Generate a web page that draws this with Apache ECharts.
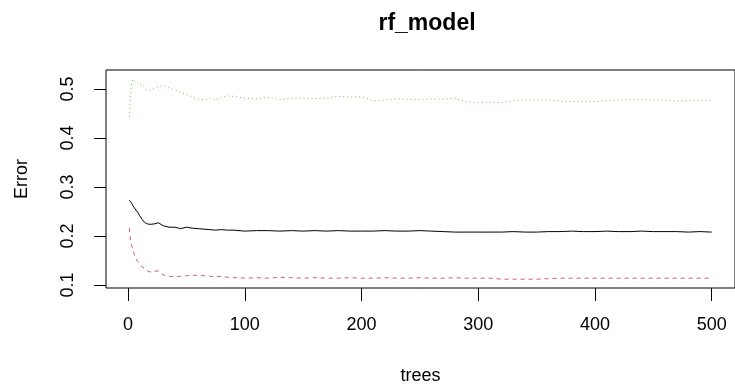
<!DOCTYPE html>
<html>
<head>
<meta charset="utf-8">
<script src="https://cdn.jsdelivr.net/npm/echarts@6/dist/echarts.min.js"></script>
<style>
  html, body { margin: 0; padding: 0; background: #fff; }
  #chart { width: 735px; height: 390px; }
</style>
</head>
<body>
<div id="chart"></div>
<script>
const trees = [1, 2, 3, 4, 5, 6, 8, 10, 12, 14, 16, 18, 20, 23, 26, 30, 35, 40, 45, 50,
  55, 60, 65, 70, 75, 80, 85, 90, 95, 100, 110, 120, 130, 140, 150, 160, 170, 180, 190, 200,
  210, 220, 230, 240, 250, 260, 270, 280, 290, 300, 310, 320, 330, 340, 350, 360, 370, 380, 390, 400,
  410, 420, 430, 440, 450, 460, 470, 480, 490, 500]

const oobErr = [0.273, 0.270, 0.267, 0.262, 0.259, 0.255, 0.249, 0.241, 0.234, 0.228, 0.225, 0.224, 0.224, 0.225, 0.227, 0.221, 0.218, 0.218, 0.215, 0.218,
  0.216, 0.215, 0.214, 0.213, 0.212, 0.213, 0.212, 0.212, 0.211, 0.210, 0.211, 0.211, 0.210, 0.211, 0.210, 0.211, 0.210, 0.211, 0.210, 0.210,
  0.210, 0.211, 0.210, 0.210, 0.211, 0.210, 0.209, 0.208, 0.208, 0.208, 0.208, 0.208, 0.209, 0.208, 0.208, 0.209, 0.209, 0.210, 0.209, 0.209,
  0.210, 0.209, 0.209, 0.210, 0.209, 0.209, 0.209, 0.208, 0.209, 0.208]

const class1Err = [0.216, 0.190, 0.180, 0.173, 0.165, 0.157, 0.148, 0.143, 0.137, 0.134, 0.130, 0.127, 0.127, 0.128, 0.129, 0.121, 0.118, 0.117, 0.118, 0.119,
  0.120, 0.120, 0.119, 0.118, 0.117, 0.118, 0.116, 0.115, 0.115, 0.114, 0.115, 0.114, 0.116, 0.115, 0.114, 0.115, 0.114, 0.114, 0.115, 0.114,
  0.114, 0.115, 0.114, 0.114, 0.115, 0.114, 0.114, 0.115, 0.114, 0.114, 0.114, 0.112, 0.112, 0.112, 0.112, 0.113, 0.114, 0.114, 0.114, 0.114,
  0.114, 0.114, 0.114, 0.114, 0.114, 0.114, 0.114, 0.114, 0.114, 0.114]

const class2Err = [0.443, 0.488, 0.508, 0.520, 0.517, 0.514, 0.512, 0.508, 0.510, 0.503, 0.498, 0.497, 0.499, 0.501, 0.504, 0.507, 0.502, 0.498, 0.493, 0.488,
  0.483, 0.479, 0.478, 0.482, 0.477, 0.483, 0.486, 0.485, 0.483, 0.481, 0.479, 0.483, 0.478, 0.481, 0.481, 0.480, 0.481, 0.485, 0.483, 0.484,
  0.476, 0.477, 0.480, 0.479, 0.478, 0.480, 0.479, 0.481, 0.474, 0.472, 0.473, 0.472, 0.476, 0.477, 0.478, 0.477, 0.475, 0.474, 0.475, 0.474,
  0.476, 0.477, 0.478, 0.478, 0.477, 0.477, 0.475, 0.476, 0.476, 0.477]

const xTicks = [0, 100, 200, 300, 400, 500]
const yTicks = [0.1, 0.2, 0.3, 0.4, 0.5]

const font = "'Liberation Sans', Arial, sans-serif"

function pairs(vals) {
  return trees.map((t, i) => [t, vals[i]])
}

const chart = echarts.init(document.getElementById('chart'), null, { renderer: 'canvas' })

chart.setOption({
  animation: false,
  backgroundColor: '#fff',
  title: {
    text: 'rf_model',
    left: 422,
    top: 7,
    textAlign: 'center',
    textStyle: { fontFamily: font, fontSize: 23, fontWeight: 'bold', color: '#000' }
  },
  grid: {
    left: 106, right: -2, top: 70, bottom: 101,
    show: true, borderColor: '#000', borderWidth: 1, backgroundColor: 'transparent'
  },
  xAxis: {
    type: 'value',
    min: -18.96,
    max: 519.96,
    name: 'trees',
    nameLocation: 'middle',
    nameGap: 79,
    nameTextStyle: { fontFamily: font, fontSize: 18, color: '#000' },
    axisLine: { show: false, onZero: false },
    axisTick: { show: true, length: 13, customValues: xTicks, lineStyle: { color: '#000', width: 1 } },
    axisLabel: {
      customValues: xTicks, margin: 28,
      fontFamily: font, fontSize: 18, color: '#000'
    },
    splitLine: { show: false }
  },
  yAxis: {
    type: 'value',
    min: 0.094,
    max: 0.5385,
    name: 'Error',
    nameLocation: 'middle',
    nameRotate: 90,
    nameGap: 75,
    nameTextStyle: { fontFamily: font, fontSize: 18, color: '#000' },
    axisLine: { show: false, onZero: false },
    axisTick: { show: true, length: 12, customValues: yTicks, lineStyle: { color: '#000', width: 1 } },
    axisLabel: {
      customValues: yTicks, rotate: 90, margin: 29,
      fontFamily: font, fontSize: 18, color: '#000',
      formatter: v => v.toFixed(1)
    },
    splitLine: { show: false }
  },
  series: [
    {
      name: 'OOB', type: 'line', data: pairs(oobErr), showSymbol: false,
      lineStyle: { color: '#000', width: 1 }
    },
    {
      name: '1', type: 'line', data: pairs(class1Err), showSymbol: false,
      lineStyle: { color: '#DF536B', width: 1, type: [4, 4] }
    },
    {
      name: '2', type: 'line', data: pairs(class2Err), showSymbol: false,
      lineStyle: { color: '#61D04F', width: 1, type: [1, 3] }
    }
  ]
})
</script>
</body>
</html>
